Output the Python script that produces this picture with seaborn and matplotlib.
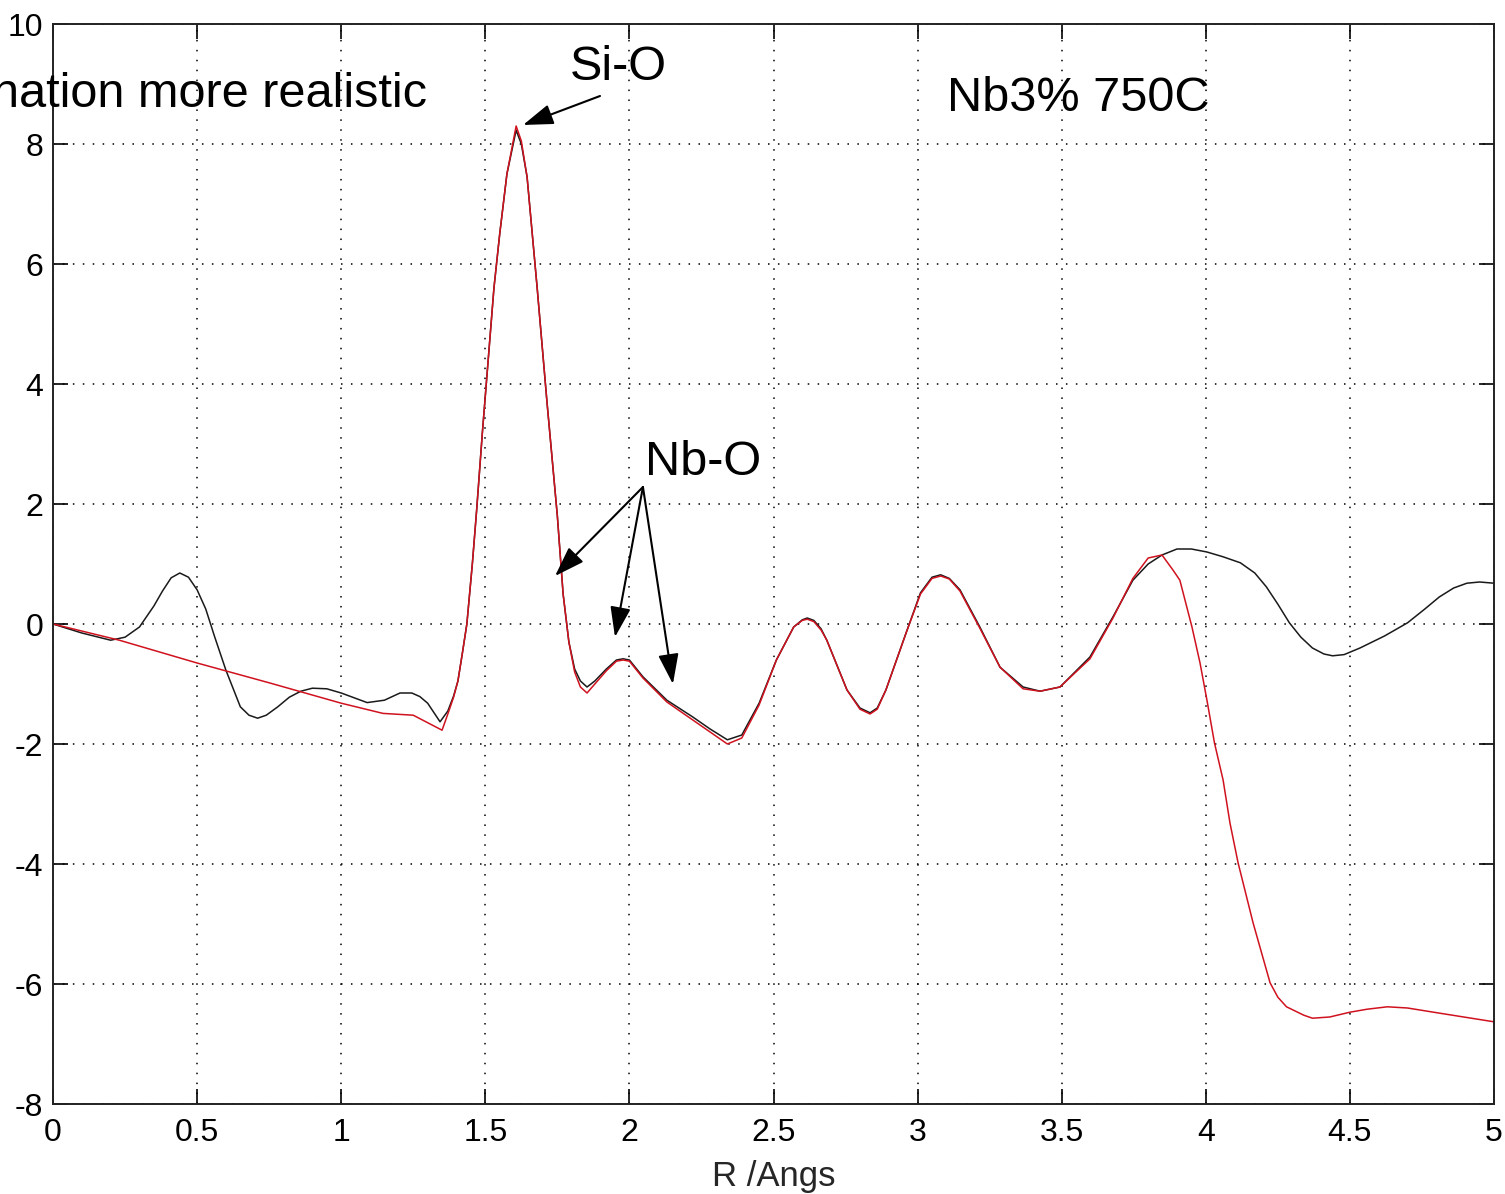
import matplotlib
matplotlib.use("Agg")
import matplotlib.pyplot as plt
import seaborn as sns
import pandas as pd

# ---- data ----
r_data = [0.0, 0.1, 0.2, 0.25, 0.3, 0.35, 0.38, 0.41, 0.44, 0.47, 0.5, 0.53, 0.56, 0.6, 0.65,
          0.68, 0.71, 0.74, 0.78, 0.82, 0.86, 0.9, 0.95, 1.0, 1.09, 1.15, 1.204, 1.245, 1.273,
          1.30, 1.343, 1.37, 1.39, 1.405, 1.42, 1.436, 1.455, 1.47, 1.49, 1.51, 1.53, 1.55,
          1.575, 1.607, 1.625, 1.645, 1.68, 1.714, 1.75, 1.77, 1.79, 1.81, 1.83, 1.853, 1.88,
          1.92, 1.955, 1.978, 2.0, 2.047, 2.13, 2.22, 2.28, 2.34, 2.39, 2.45, 2.51, 2.57, 2.6,
          2.617, 2.64, 2.665, 2.685, 2.755, 2.8, 2.835, 2.86, 2.89, 2.96, 3.01, 3.05, 3.08, 3.11,
          3.147, 3.216, 3.286, 3.366, 3.425, 3.494, 3.598, 3.678, 3.747, 3.8, 3.848, 3.9, 3.95,
          4.004, 4.06, 4.12, 4.17, 4.21, 4.25, 4.29, 4.33, 4.37, 4.41, 4.44, 4.48, 4.535, 4.62,
          4.70, 4.76, 4.81, 4.86, 4.906, 4.95, 5.0]
chi_data = [0.0, -0.15, -0.27, -0.22, -0.05, 0.3, 0.55, 0.77, 0.85, 0.78, 0.57, 0.25, -0.2,
            -0.77, -1.38, -1.52, -1.57, -1.52, -1.38, -1.22, -1.12, -1.07, -1.08, -1.15, -1.31,
            -1.27, -1.15, -1.15, -1.21, -1.32, -1.63, -1.45, -1.2, -0.95, -0.5, 0.0, 1.0, 1.9,
            3.2, 4.4, 5.6, 6.5, 7.5, 8.23, 8.0, 7.45, 5.6, 3.7, 1.8, 0.5, -0.3, -0.75, -0.95,
            -1.05, -0.95, -0.75, -0.6, -0.58, -0.6, -0.88, -1.27, -1.55, -1.75, -1.93, -1.85,
            -1.32, -0.6, -0.05, 0.07, 0.1, 0.06, -0.08, -0.27, -1.1, -1.4, -1.48, -1.4, -1.1,
            -0.15, 0.52, 0.78, 0.82, 0.76, 0.57, -0.05, -0.72, -1.05, -1.12, -1.05, -0.55, 0.12,
            0.73, 1.0, 1.15, 1.25, 1.25, 1.2, 1.12, 1.02, 0.85, 0.62, 0.33, 0.02, -0.22, -0.4,
            -0.5, -0.53, -0.51, -0.4, -0.2, 0.02, 0.25, 0.45, 0.6, 0.68, 0.7, 0.68]

r_fit = [0.0, 0.23, 0.5, 0.75, 1.0, 1.145, 1.25, 1.35, 1.37, 1.39, 1.405, 1.42, 1.436, 1.455,
         1.47, 1.49, 1.51, 1.53, 1.55, 1.575, 1.607, 1.625, 1.645, 1.68, 1.714, 1.75, 1.77,
         1.79, 1.81, 1.83, 1.853, 1.88, 1.92, 1.955, 1.978, 2.0, 2.047, 2.13, 2.22, 2.28, 2.34,
         2.39, 2.45, 2.51, 2.57, 2.6, 2.617, 2.64, 2.665, 2.685, 2.755, 2.8, 2.835, 2.86, 2.89,
         2.96, 3.01, 3.05, 3.08, 3.11, 3.147, 3.216, 3.286, 3.366, 3.425, 3.494, 3.598, 3.678,
         3.747, 3.8, 3.848, 3.886, 3.91, 3.952, 3.98, 4.004, 4.03, 4.06, 4.084, 4.112, 4.164,
         4.223, 4.25, 4.28, 4.34, 4.37, 4.43, 4.5, 4.56, 4.63, 4.7, 4.79, 5.0]
chi_fit = [0.0, -0.27, -0.65, -0.98, -1.32, -1.49, -1.52, -1.77, -1.5, -1.22, -0.95, -0.5, 0.0,
           1.0, 1.9, 3.2, 4.4, 5.6, 6.5, 7.5, 8.3, 8.05, 7.45, 5.6, 3.7, 1.8, 0.5, -0.3, -0.8,
           -1.05, -1.15, -1.0, -0.78, -0.62, -0.6, -0.62, -0.9, -1.3, -1.6, -1.8, -2.0, -1.9,
           -1.35, -0.6, -0.05, 0.06, 0.08, 0.04, -0.1, -0.27, -1.1, -1.42, -1.5, -1.42, -1.1,
           -0.15, 0.5, 0.76, 0.8, 0.75, 0.55, -0.07, -0.72, -1.08, -1.12, -1.05, -0.58, 0.1,
           0.76, 1.1, 1.15, 0.9, 0.73, -0.05, -0.65, -1.27, -1.98, -2.6, -3.32, -3.98, -4.98,
           -5.98, -6.22, -6.38, -6.52, -6.57, -6.55, -6.47, -6.42, -6.38, -6.4, -6.47, -6.63]

x_ticks = [0, 0.5, 1, 1.5, 2, 2.5, 3, 3.5, 4, 4.5, 5]
x_ticklabels = ["0", "0.5", "1", "1.5", "2", "2.5", "3", "3.5", "4", "4.5", "5"]
y_ticks = [-8, -6, -4, -2, 0, 2, 4, 6, 8, 10]
y_ticklabels = ["-8", "-6", "-4", "-2", "0", "2", "4", "6", "8", "10"]

df_data = pd.DataFrame({"R": r_data, "chi": chi_data})
df_fit = pd.DataFrame({"R": r_fit, "chi": chi_fit})

# ---- style ----
sns.set_theme(style="white")
plt.rcParams["font.family"] = ["Liberation Sans", "DejaVu Sans"]
plt.rcParams["axes.unicode_minus"] = False

fig = plt.figure(figsize=(15.05, 11.94), dpi=100)
ax = fig.add_axes([53 / 1505, 90 / 1194, (1494 - 53) / 1505, (1104 - 24) / 1194])

sns.lineplot(data=df_data, x="R", y="chi", ax=ax, color="#1a1a1a", linewidth=1.1,
             sort=False, estimator=None)
sns.lineplot(data=df_fit, x="R", y="chi", ax=ax, color="#d0121f", linewidth=1.1,
             sort=False, estimator=None)

ax.set_xlim(0, 5)
ax.set_ylim(-8, 10)
ax.set_xticks(x_ticks)
ax.set_xticklabels(x_ticklabels)
ax.set_yticks(y_ticks)
ax.set_yticklabels(y_ticklabels)
ax.set_xlabel("R /Angs", fontsize=25, labelpad=9)
ax.set_ylabel("")

ax.tick_params(direction="in", length=11, width=1.2, colors="black", labelsize=23,
               top=True, right=True, bottom=True, left=True)
ax.tick_params(axis="x", pad=10)
ax.tick_params(axis="y", pad=7)
for s in ax.spines.values():
    s.set_visible(True)
    s.set_color("#222222")
    s.set_linewidth(1.4)

ax.grid(True, color="black", linestyle=(0, (1, 5.5)), linewidth=1.1)
ax.set_axisbelow(True)

# ---- annotations ----
ax.text(1.298, 8.62, "nation more realistic", fontsize=35, ha="right", va="baseline",
        color="black")
ax.text(3.102, 8.55, "Nb3% 750C", fontsize=35, ha="left", va="baseline", color="black")
ax.text(1.794, 9.07, "Si-O", fontsize=35, ha="left", va="baseline", color="black")
ax.text(2.054, 2.48, "Nb-O", fontsize=35, ha="left", va="baseline", color="black")

arrow_kw = dict(arrowstyle="-|>,head_length=0.5,head_width=0.17", mutation_scale=37,
                color="black", lw=1.5, shrinkA=0, shrinkB=0)
ax.annotate("", xy=(1.631, 8.317), xytext=(1.898, 8.8), arrowprops=arrow_kw)
for tip in [(1.742, 0.8), (1.950, -0.217), (2.151, -1.0)]:
    ax.annotate("", xy=tip, xytext=(2.047, 2.283), arrowprops=arrow_kw)

fig.savefig("out.png", dpi=100)
